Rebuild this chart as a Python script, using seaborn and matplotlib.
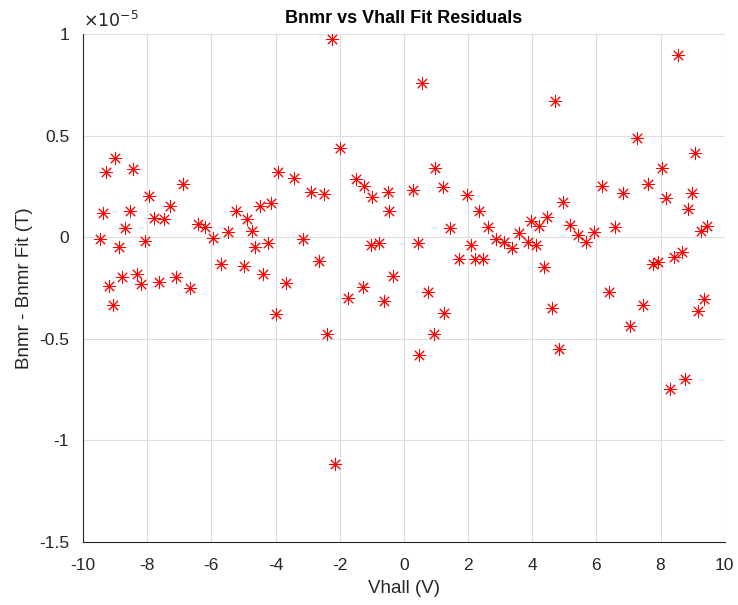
import numpy as np
import pandas as pd
import matplotlib
matplotlib.use("Agg")
import matplotlib.pyplot as plt
import seaborn as sns

# Vhall (V)
vhall = [
    -8.99, -9.29, -8.45, -6.89, -7.94, -9.38, -8.55, -7.30, -7.80, -7.48, -8.68,
    -9.47, -8.88, -8.08, -8.77, -8.32, -9.19, -8.20, -7.64, -7.09, -6.66, -9.08,
    -3.91, -3.41, -4.49, -4.15, -5.22, -4.89, -6.43, -6.19, -5.96, -5.47, -4.73,
    -4.64, -4.23, -5.71, -4.97, -4.40, -3.66, -3.98,
    -2.25, -2.00, -2.89, -2.50, -1.50, -1.24, -0.98, -0.50, -0.46, -3.14, -2.64,
    -1.03, -0.76, -0.33, -1.27, -1.74, -0.62, -2.39, -2.14,
    0.57, 0.98, 0.28, 1.21, 1.96, 2.35, 1.44, 2.61, 2.86, 3.11, 0.44, 2.09,
    1.71, 2.23, 2.48, 0.75, 1.24, 0.95, 0.48,
    4.70, 6.16, 4.95, 4.45, 3.96, 4.20, 5.19, 3.60, 5.44, 5.92, 5.68, 3.86,
    4.11, 3.36, 4.36, 6.38, 4.61, 4.84, 6.59,
    8.53, 7.26, 9.07, 8.03, 7.61, 6.84, 8.18, 8.97, 8.85, 9.44, 9.25, 7.78,
    7.93, 8.42, 8.66, 7.45, 9.36, 9.17, 7.06, 8.76, 8.29,
]
# Bnmr - Bnmr Fit (units of 1e-5 T)
resid = [
    0.389, 0.323, 0.336, 0.263, 0.203, 0.120, 0.130, 0.156, 0.095, 0.090, 0.046,
    -0.008, -0.046, -0.018, -0.197, -0.179, -0.240, -0.230, -0.222, -0.197, -0.248, -0.335,
    0.323, 0.292, 0.156, 0.169, 0.130, 0.089, 0.067, 0.052, -0.002, 0.028, 0.033,
    -0.049, -0.030, -0.130, -0.140, -0.182, -0.227, -0.376,
    0.977, 0.438, 0.225, 0.213, 0.287, 0.254, 0.200, 0.222, 0.128, -0.007, -0.115,
    -0.036, -0.030, -0.191, -0.245, -0.301, -0.314, -0.476, -1.118,
    0.759, 0.340, 0.231, 0.248, 0.207, 0.131, 0.044, 0.052, -0.010, -0.022, -0.030, -0.039,
    -0.105, -0.108, -0.108, -0.269, -0.373, -0.475, -0.580,
    0.670, 0.251, 0.172, 0.102, 0.079, 0.056, 0.061, 0.023, 0.011, 0.025, -0.023, -0.022,
    -0.036, -0.051, -0.146, -0.269, -0.350, -0.550, 0.052,
    0.900, 0.488, 0.414, 0.340, 0.264, 0.220, 0.192, 0.217, 0.138, 0.057, 0.031, -0.130,
    -0.120, -0.099, -0.074, -0.333, -0.306, -0.363, -0.437, -0.698, -0.747,
]

x_ticks = [-10, -8, -6, -4, -2, 0, 2, 4, 6, 8, 10]
y_ticks = [-1.5, -1, -0.5, 0, 0.5, 1]

df = pd.DataFrame({"Vhall": vhall, "resid": resid})

sns.set_theme(style="white")
plt.rcParams["font.family"] = ["Liberation Sans", "DejaVu Sans"]
plt.rcParams["axes.unicode_minus"] = False

fig = plt.figure(figsize=(7.38, 6.05), dpi=100)
ax = fig.add_axes([0.1125, 0.1045, 0.8695, 0.8388])

sns.scatterplot(data=df, x="Vhall", y="resid", ax=ax, marker=(8, 2, 0),
                color="red", edgecolor="red", s=80, linewidth=0.7, zorder=3)

ax.set_xlim(-10, 10)
ax.set_ylim(-1.5, 1)
ax.set_xticks(x_ticks)
ax.set_yticks(y_ticks)
ax.set_xticklabels([f"{t:g}" for t in x_ticks])
ax.set_yticklabels([f"{t:g}" for t in y_ticks])
ax.grid(True, color="#dedede", linewidth=0.8)
ax.set_axisbelow(True)
for s in ["top", "right"]:
    ax.spines[s].set_visible(False)
for s in ["left", "bottom"]:
    ax.spines[s].set_color("#262626")
    ax.spines[s].set_linewidth(0.8)
ax.tick_params(direction="in", length=5, width=0.8, color="#262626",
               labelsize=12.5, labelcolor="#262626")
ax.tick_params(axis="x", pad=12)
ax.tick_params(axis="y", pad=10)

ax.set_xlabel("Vhall (V)", fontsize=13.5, color="#262626", labelpad=5)
ax.set_ylabel("Bnmr - Bnmr Fit (T)", fontsize=13.5, color="#262626", labelpad=4)
ax.set_title("Bnmr vs Vhall Fit Residuals", fontsize=13, fontweight="bold",
             color="black", pad=8)
ax.text(0.0, 1.008, r"$\times10^{-5}$", transform=ax.transAxes, fontsize=12.5,
        color="#262626", ha="left", va="bottom")

fig.savefig("out.png", dpi=100)
